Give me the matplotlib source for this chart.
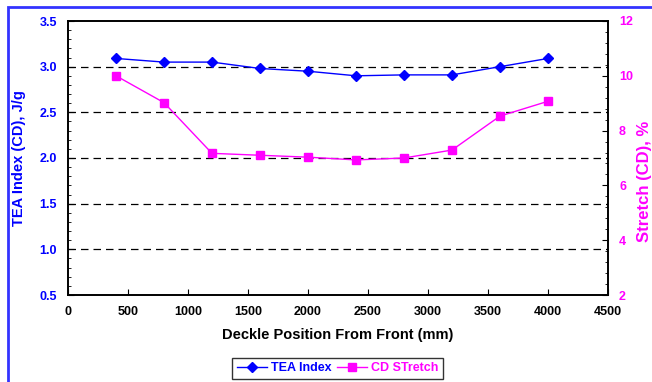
import matplotlib
matplotlib.use("Agg")
import matplotlib.pyplot as plt
from matplotlib.patches import Rectangle
from matplotlib.ticker import MultipleLocator, FormatStrFormatter

plt.rcParams['font.family'] = ['Liberation Sans', 'DejaVu Sans']
plt.rcParams['font.weight'] = 'bold'

position = [400, 800, 1200, 1600, 2000, 2400, 2800, 3200, 3600, 4000]
tea_index = [3.09, 3.05, 3.05, 2.98, 2.95, 2.90, 2.91, 2.91, 3.00, 3.09]
cd_stretch = [10.0, 9.02, 7.17, 7.1, 7.03, 6.93, 7.0, 7.29, 8.53, 9.07]

blue = '#0000FF'
mag = '#FF00FF'

fig = plt.figure(figsize=(6.52, 3.82), dpi=100)
ax = fig.add_axes([68/652, 1-295/382, 540/652, 274/382])
ax2 = ax.twinx()

l1, = ax.plot(position, tea_index, color=blue, lw=1, marker='D', ms=5,
              label='TEA Index')
l2, = ax2.plot(position, cd_stretch, color=mag, lw=1, marker='s', ms=6,
               label='CD STretch')

ax.set_xlim(0, 4500)
ax.set_ylim(0.5, 3.5)
ax2.set_ylim(2, 12)
ax.xaxis.set_major_locator(MultipleLocator(500))
ax.yaxis.set_major_locator(MultipleLocator(0.5))
ax.yaxis.set_minor_locator(MultipleLocator(0.1))
ax2.yaxis.set_major_locator(MultipleLocator(2))
ax2.yaxis.set_minor_locator(MultipleLocator(0.4))
ax.yaxis.set_major_formatter(FormatStrFormatter('%.1f'))

for g in [1.0, 1.5, 2.0, 2.5, 3.0]:
    ax.axhline(g, color='black', lw=0.9, ls=(0, (6, 4)), zorder=0)

ax.tick_params(axis='x', direction='in', length=4, labelsize=9, pad=8)
ax.tick_params(axis='y', which='major', direction='in', length=4,
               labelsize=9, labelcolor=blue, pad=8)
ax.tick_params(axis='y', which='minor', direction='in', length=2)
ax2.tick_params(axis='y', which='major', direction='in', length=4,
                labelsize=9, labelcolor=mag, pad=8)
ax2.tick_params(axis='y', which='minor', direction='in', length=2)

for a in (ax, ax2):
    for s in a.spines.values():
        s.set_linewidth(1.2)

ax.set_xlabel('Deckle Position From Front (mm)', fontsize=10.5,
              fontweight='bold', labelpad=7)
ax.set_ylabel('TEA Index (CD), J/g', fontsize=10.5, fontweight='bold',
              color=blue)
ax.yaxis.set_label_coords(-0.078, 0.5)
ax2.set_ylabel('Stretch (CD), %', fontsize=12, fontweight='bold',
               color=mag)
ax2.yaxis.set_label_coords(1.054, 0.416)

leg = fig.legend(handles=[l1, l2], loc='lower center', ncol=2,
                 bbox_to_anchor=(0.518, -0.008), fontsize=9, frameon=True,
                 fancybox=False, edgecolor='black', handlelength=2.4,
                 handletextpad=0.3, columnspacing=0.5, borderpad=0.35)
leg.get_frame().set_linewidth(1.0)
for t, c in zip(leg.get_texts(), [blue, mag]):
    t.set_color(c)

fig.patches.append(Rectangle((8/652, -0.02), 1.0, 1.02 - 7/382,
                             transform=fig.transFigure, fill=False,
                             edgecolor='#3333FF', lw=2, clip_on=False))

fig.savefig('out.png', dpi=100)
